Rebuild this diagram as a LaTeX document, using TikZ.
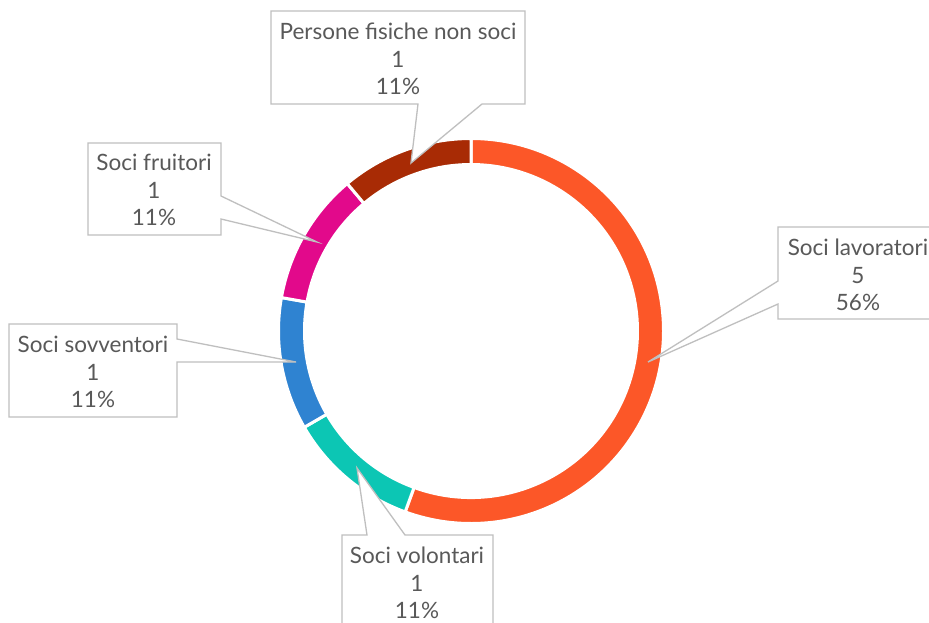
\documentclass[tikz,border=0pt]{standalone}
\usepackage{fontspec}
\setmainfont{Lato}
\definecolor{cLav}{HTML}{FC5728}
\definecolor{cVol}{HTML}{0CC6B4}
\definecolor{cSov}{HTML}{2F83D1}
\definecolor{cFru}{HTML}{E2098B}
\definecolor{cPer}{HTML}{A82B05}
\definecolor{txtgrey}{HTML}{595959}
\definecolor{boxgrey}{HTML}{BFBFBF}
\tikzset{
  seg/.style={draw=white, line width=3pt},
  callout/.style={draw=boxgrey, line width=1.3pt, fill=white, line join=miter},
  lbl/.style={align=center, text=txtgrey, font=\fontsize{22.5}{27.5}\selectfont, inner sep=0pt}
}
\begin{document}
\begin{tikzpicture}[x=1pt,y=-1pt]
\useasboundingbox (0,0) rectangle (929,622);
\fill[white] (0,0) rectangle (929,622);
\coordinate (ctr) at (471,331);
\def\Ro{192.5}
\def\Ri{166.5}
\begin{scope}[shift={(ctr)},yscale=-1]
  \foreach \a/\b/\c in {90/-110/cLav, -110/-150/cVol, -150/-190/cSov, -190/-230/cFru, -230/-270/cPer}{
    \filldraw[seg, fill=\c] (\a:\Ro) arc[start angle=\a, end angle=\b, radius=\Ro]
      -- (\b:\Ri) arc[start angle=\b, end angle=\a, radius=\Ri] -- cycle;
  }
\end{scope}
% tips
\coordinate (tPer) at (411,163);
\coordinate (tLav) at (648,362);
\coordinate (tFru) at (317,242);
\coordinate (tSov) at (296,362);
\coordinate (tVol) at (357,468);
% callouts
\draw[callout] (271,11) -- (525,11) -- (525,104) -- (482,104) -- (tPer) -- (418,104) -- (271,104) -- cycle;
\draw[callout] (778,227) -- (935,227) -- (935,319) -- (778,319) -- (778,304) -- (tLav) -- (778,281) -- cycle;
\draw[callout] (88,143) -- (221,143) -- (221,196) -- (tFru) -- (221,219) -- (221,235) -- (88,235) -- cycle;
\draw[callout] (9,324) -- (177,324) -- (177,339) -- (tSov) -- (177,362) -- (177,417) -- (9,417) -- cycle;
\draw[callout] (342,535) -- (367,535) -- (tVol) -- (405,535) -- (493,535) -- (493,630) -- (342,630) -- cycle;
% labels
\node[lbl] (lPer) at (398,59) {Persone fisiche non soci\\1\\11\%};
\node[lbl] (lLav) at (858,275) {Soci lavoratori\\5\\56\%};
\node[lbl] (lFru) at (154,190) {Soci fruitori\\1\\11\%};
\node[lbl] (lSov) at (93,372) {Soci sovventori\\1\\11\%};
\node[lbl] (lVol) at (417,583) {Soci volontari\\1\\11\%};
\end{tikzpicture}
\end{document}
